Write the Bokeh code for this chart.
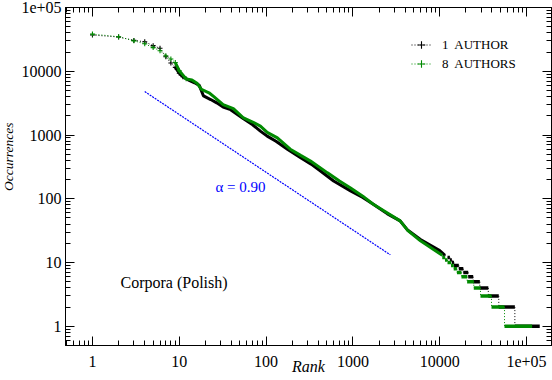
from bokeh.plotting import figure
from bokeh.models import FixedTicker, LogAxis, Label, Legend, LegendItem, Range1d, Title
from bokeh.embed import file_html
from bokeh.resources import INLINE

# ---------------- data ----------------
x_ticks = [1, 10, 100, 1000, 10000, 100000]
x_tick_labels = ["1", "10", "100", "1000", "10000", "1e+05"]
y_ticks = [1, 10, 100, 1000, 10000, 100000]
y_tick_labels = ["1", "10", "100", "1000", "10000", "1e+05"]

# 1 AUTHOR: rank / occurrences (continuous part)
black_rank = [1, 2, 3, 4, 5, 6, 7, 8, 9, 10, 11, 13, 15, 17, 19, 23, 27, 32, 39,
              55, 70, 86, 103, 130, 176, 250, 330, 420, 600, 940, 1300, 1700,
              2500, 3500, 4300, 6000, 8500, 10000, 11500]
black_occ = [37000, 34500, 30500, 29000, 25200, 23000, 16900, 13500, 11500, 9300,
             8200, 7200, 6600, 6000, 4100, 3600, 3200, 2750, 2500, 1800, 1450,
             1150, 960, 800, 600, 440, 350, 275, 190, 133, 105, 83, 58, 45, 32,
             23, 17.5, 15.4, 13]
# 8 AUTHORS
green_rank = [1, 2, 3, 4, 5, 6, 7, 8, 9, 10, 12, 14, 16, 18, 22, 25, 32, 42, 55,
              70, 86, 103, 135, 190, 250, 325, 510, 700, 940, 1300, 1700, 2500,
              3500, 4300, 6000, 8500, 10700]
green_occ = [38300, 34800, 30000, 27000, 23500, 21000, 17500, 15600, 13700, 10200,
             7600, 7300, 6500, 5200, 4600, 4000, 3000, 2600, 1850, 1600, 1380,
             1100, 900, 600, 480, 390, 255, 190, 148, 110, 83, 60, 45, 31.6, 22,
             16, 13]

# tail: plateaus of equal occurrence count, first rank of each plateau
step_counts = [12, 11, 10, 9, 8, 7, 6, 5, 4, 3, 2, 1]
green_step_start = [10700, 11500, 12300, 13500, 14500, 15800, 17800, 20700,
                    24700, 29500, 39500, 55800]
green_last_rank = 116000
black_step_start = [12300, 13100, 13800, 14600, 16600, 18700, 21300, 24300,
                    29000, 36300, 47900, 73400]
black_last_rank = 142000

# reference power law, alpha = 0.90
fit_rank = [4, 2700]
fit_occ = [4800, 13.2]
alpha_text = "α = 0.90"

FONT = "Liberation Serif"
GREEN = "#008a00"
BLUE = "#0000ff"

p = figure(width=552, height=380, x_axis_type="log", y_axis_type="log",
           x_range=Range1d(0.489, 1.94e5), y_range=Range1d(0.5, 1e5),
           output_backend="svg", toolbar_location=None,
           min_border_left=65, min_border_right=1, min_border_top=7,
           min_border_bottom=35)
p.grid.visible = False
p.outline_line_color = "black"
p.background_fill_color = "white"


def minor_list():
    out = []
    for e in range(-1, 6):
        for m in range(2, 10):
            out.append(m * 10.0 ** e)
    return out


def style_axis(ax, ticks, labels, show_labels, standoff):
    ax.ticker = FixedTicker(ticks=ticks, minor_ticks=minor_list())
    ax.major_tick_in = 9
    ax.major_tick_out = 0
    ax.minor_tick_in = 5
    ax.minor_tick_out = 0
    ax.axis_line_color = "black"
    ax.major_tick_line_color = "black"
    ax.minor_tick_line_color = "black"
    if show_labels:
        ax.major_label_overrides = {t: l for t, l in zip(ticks, labels)}
        ax.major_label_text_font = FONT
        ax.major_label_text_font_size = "16px"
        ax.major_label_text_color = "black"
        ax.major_label_standoff = standoff
    else:
        ax.major_label_overrides = {t: "" for t in ticks}
        ax.major_label_text_font_size = "0px"
        ax.major_label_standoff = 0


style_axis(p.xaxis[0], x_ticks, x_tick_labels, True, 10)
style_axis(p.yaxis[0], y_ticks, y_tick_labels, True, 4)
p.xaxis[0].axis_label = "Rank"
p.xaxis[0].axis_label_text_font = FONT
p.xaxis[0].axis_label_text_font_style = "italic"
p.xaxis[0].axis_label_text_font_size = "16px"
p.xaxis[0].axis_label_text_color = "black"
p.xaxis[0].axis_label_standoff = -12

top_ax = LogAxis()
right_ax = LogAxis()
style_axis(top_ax, x_ticks, x_tick_labels, False, 0)
style_axis(right_ax, y_ticks, y_tick_labels, False, 0)
p.add_layout(top_ax, "above")
p.add_layout(right_ax, "right")

p.add_layout(Title(text="Occurrences", align="right", offset=115,
                   vertical_align="top", standoff=1, text_font=FONT,
                   text_font_style="italic", text_font_size="13.5px",
                   text_color="black"), "left")

# reference line
p.line(fit_rank, fit_occ, line_color=BLUE, line_width=1.2, line_dash="2 1")


def draw_series(rank, occ, starts, last, color):
    # dotted connecting line through all points
    dl = p.line(rank, occ, line_color=color, line_width=1, line_dash="1 2")
    head_r = [r for r in rank if r <= 12]
    head_o = [o for r, o in zip(rank, occ) if r <= 12]
    sc = p.scatter(head_r, head_o, marker="cross", size=5, line_color=color,
                   line_width=1.1)
    body_r = [r for r in rank if r >= 9]
    body_o = [o for r, o in zip(rank, occ) if r >= 9]
    p.line(body_r, body_o, line_color=color, line_width=3)
    # tail plateaus
    ends = starts[1:] + [last]
    p.segment(x0=starts, y0=step_counts, x1=ends, y1=step_counts,
              line_color=color, line_width=3.5)
    # dotted link from end of body to first plateau, and between plateaus
    p.line([rank[-1], starts[0]], [occ[-1], step_counts[0]], line_color=color,
           line_width=1, line_dash="1 2")
    p.segment(x0=starts[1:], y0=step_counts[:-1], x1=starts[1:],
              y1=step_counts[1:], line_color=color, line_width=1,
              line_dash="1 2")
    return dl, sc


b_line, b_sc = draw_series(black_rank, black_occ, black_step_start,
                           black_last_rank, "black")
g_line, g_sc = draw_series(green_rank, green_occ, green_step_start,
                           green_last_rank, GREEN)

legend = Legend(items=[LegendItem(label="1  AUTHOR", renderers=[b_line, b_sc]),
                       LegendItem(label="8  AUTHORS", renderers=[g_line, g_sc])],
                location=(346, 272), padding=0, margin=0, spacing=0,
                glyph_width=20, glyph_height=19, label_height=19,
                label_standoff=11, border_line_alpha=0,
                background_fill_alpha=0, label_text_font=FONT,
                label_text_font_size="13px", label_text_color="black")
p.add_layout(legend)

p.add_layout(Label(x=55, y=63, x_units="screen", y_units="screen",
                   text="Corpora  (Polish)", text_font=FONT,
                   text_font_size="16px", text_baseline="middle",
                   text_align="left", text_color="black"))
p.add_layout(Label(x=150, y=159, x_units="screen", y_units="screen",
                   text=alpha_text, text_font=FONT, text_font_size="15px",
                   text_baseline="middle", text_align="left", text_color=BLUE))

open("out.html", "w").write(file_html(p, INLINE))
